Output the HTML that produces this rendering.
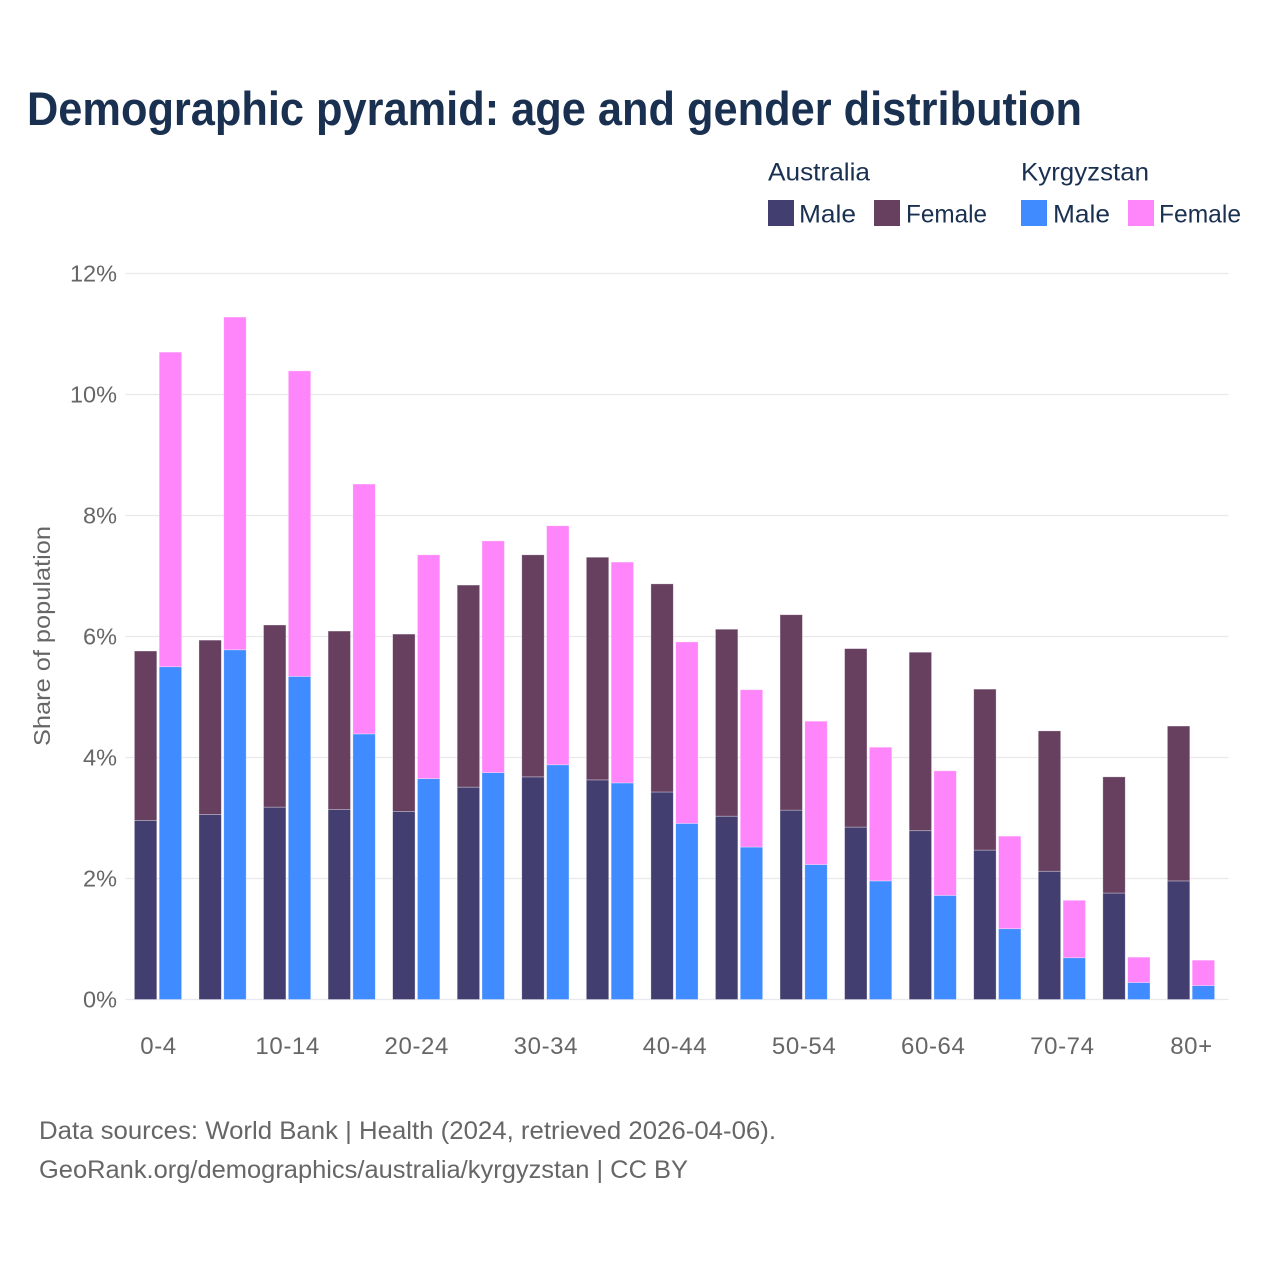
<!DOCTYPE html>
<html lang="en">
<head>
<meta charset="utf-8">
<title>Demographic pyramid</title>
<style>
html,body{margin:0;padding:0;background:#fff;width:1280px;height:1280px;overflow:hidden}
svg{display:block}
text{font-family:"Liberation Sans",sans-serif}
</style>
</head>
<body>
<svg id="chart" xmlns="http://www.w3.org/2000/svg" width="1280" height="1280" viewBox="0 0 1280 1280">
<rect width="1280" height="1280" fill="#fff"/>
<text x="27" y="125" font-size="47" font-weight="700" fill="#1a3050" textLength="1055" lengthAdjust="spacingAndGlyphs">Demographic pyramid: age and gender distribution</text>
<g font-size="25" fill="#1a3050">
<text x="768" y="180.5" textLength="102" lengthAdjust="spacingAndGlyphs">Australia</text>
<text x="1021" y="180.5" textLength="128" lengthAdjust="spacingAndGlyphs">Kyrgyzstan</text>
<rect x="768" y="200" width="26" height="26" fill="#433e70"/>
<text x="799" y="222.5" textLength="57" lengthAdjust="spacingAndGlyphs">Male</text>
<rect x="874" y="200" width="26" height="26" fill="#674060"/>
<text x="906" y="222.5" textLength="81" lengthAdjust="spacingAndGlyphs">Female</text>
<rect x="1021" y="200" width="26" height="26" fill="#3f8bff"/>
<text x="1053" y="222.5" textLength="57" lengthAdjust="spacingAndGlyphs">Male</text>
<rect x="1128" y="200" width="26" height="26" fill="#ff85fb"/>
<text x="1159" y="222.5" textLength="82" lengthAdjust="spacingAndGlyphs">Female</text>
</g>
<g id="grid"></g>
<g id="bars"></g>
<g id="yticks"></g>
<g id="xticks"></g>
<text transform="translate(50,636) rotate(-90)" text-anchor="middle" font-size="23" fill="#666" textLength="220" lengthAdjust="spacingAndGlyphs">Share of population</text>
<text x="39" y="1139" font-size="25" fill="#666" textLength="737" lengthAdjust="spacingAndGlyphs">Data sources: World Bank | Health (2024, retrieved 2026-04-06).</text>
<text x="39" y="1178" font-size="25" fill="#666" textLength="649" lengthAdjust="spacingAndGlyphs">GeoRank.org/demographics/australia/kyrgyzstan | CC BY</text>
</svg>
<script>
const ageGroups = ["0-4","5-9","10-14","15-19","20-24","25-29","30-34","35-39","40-44","45-49","50-54","55-59","60-64","65-69","70-74","75-79","80+"];
const xTickLabels = ["0-4","10-14","20-24","30-34","40-44","50-54","60-64","70-74","80+"];
const yTicks = [0,2,4,6,8,10,12];
const australiaMale = [2.96,3.06,3.18,3.14,3.11,3.51,3.68,3.63,3.43,3.03,3.13,2.85,2.79,2.47,2.12,1.76,1.96];
const australiaFemale = [2.80,2.88,3.01,2.95,2.93,3.34,3.67,3.68,3.44,3.09,3.23,2.95,2.95,2.66,2.32,1.92,2.56];
const kyrgyzstanMale = [5.50,5.78,5.34,4.39,3.65,3.75,3.88,3.58,2.91,2.52,2.23,1.96,1.72,1.17,0.69,0.28,0.23];
const kyrgyzstanFemale = [5.20,5.50,5.05,4.13,3.70,3.83,3.95,3.65,3.00,2.60,2.37,2.21,2.06,1.53,0.95,0.42,0.42];

const NS = "http://www.w3.org/2000/svg";
const plotLeft = 125.5, plotRight = 1228.5;
const y0 = 999.5, pxPerUnit = 60.5;
const firstCenter = 158.2, step = (1191.2 - 158.2) / (ageGroups.length - 1);
function yScale(v){ return y0 - v * pxPerUnit; }
function xScale(i){ return firstCenter + i * step; }

const gridG = document.getElementById('grid');
const yG = document.getElementById('yticks');
const xG = document.getElementById('xticks');
const barsG = document.getElementById('bars');

yTicks.forEach(function(t){
  const line = document.createElementNS(NS,'line');
  
  
  line.setAttribute('x1', plotLeft);
  line.setAttribute('x2', plotRight);
  line.setAttribute('y1', yScale(t));
  line.setAttribute('y2', yScale(t));
  line.setAttribute('stroke', '#e8e8ed');
  line.setAttribute('stroke-width', '1.3');
  gridG.appendChild(line);
  const label = document.createElementNS(NS,'text');
  
  
  label.setAttribute('x', 117);
  label.setAttribute('y', yScale(t) + 8);
  label.setAttribute('text-anchor', 'end');
  label.setAttribute('font-size', '23.5');
  label.setAttribute('fill', '#666');
  label.textContent = t + '%';
  yG.appendChild(label);
});

function drawBar(name, cx, base, value, color){
  const r = document.createElementNS(NS,'rect');
  
  
  r.setAttribute('x', cx);
  r.setAttribute('width', 22.4);
  r.setAttribute('y', yScale(base + value));
  r.setAttribute('height', value * pxPerUnit);
  r.setAttribute('fill', color);
  r.setAttribute('stroke', 'rgba(255,255,255,0.45)');
  r.setAttribute('stroke-width', '0.7');
  barsG.appendChild(r);
}

ageGroups.forEach(function(age, i){
  const c = xScale(i);
  const a = c - 23.8, k = c + 1.0;
  drawBar('bar-australia-male-' + age, a, 0, australiaMale[i], '#433e70');
  drawBar('bar-australia-female-' + age, a, australiaMale[i], australiaFemale[i], '#674060');
  drawBar('bar-kyrgyzstan-male-' + age, k, 0, kyrgyzstanMale[i], '#3f8bff');
  drawBar('bar-kyrgyzstan-female-' + age, k, kyrgyzstanMale[i], kyrgyzstanFemale[i], '#ff85fb');
  if (xTickLabels.indexOf(age) >= 0) {
    const label = document.createElementNS(NS,'text');
    
    
    label.setAttribute('x', c + 0.3);
    label.setAttribute('y', 1054);
    label.setAttribute('text-anchor', 'middle');
    label.setAttribute('font-size', '24');
    label.setAttribute('letter-spacing', '0.6');
    label.setAttribute('fill', '#666');
    label.textContent = age;
    xG.appendChild(label);
  }
});
</script>
</body>
</html>
